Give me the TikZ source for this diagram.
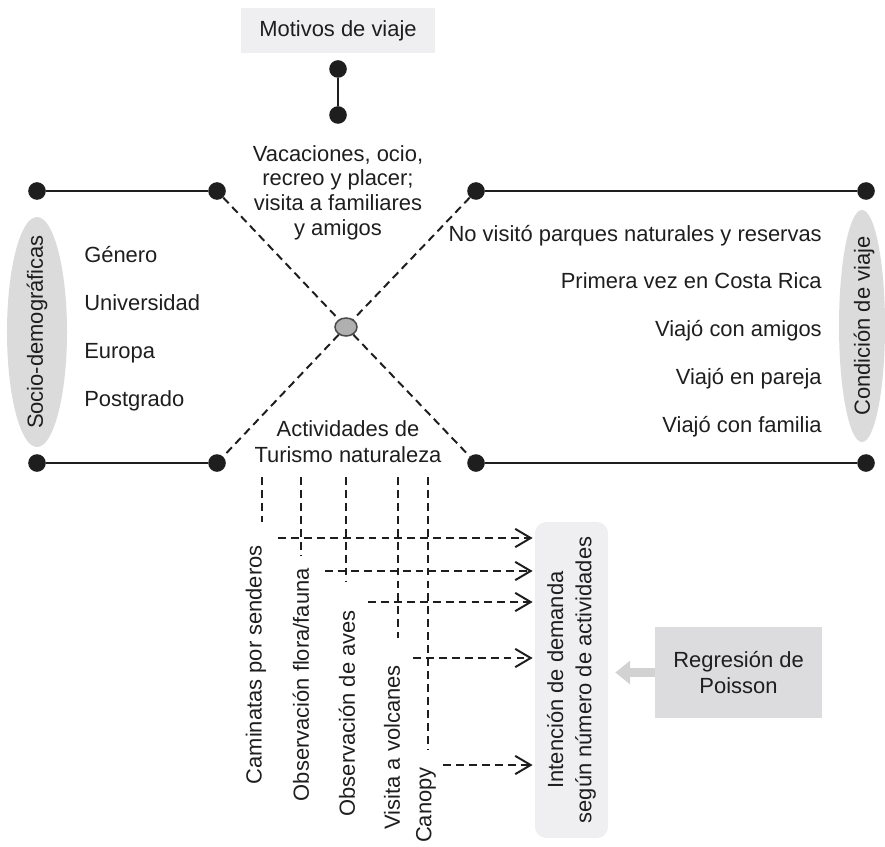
\documentclass[tikz,border=0pt]{standalone}
\usepackage{fontspec}
\setmainfont{Liberation Sans}
\usepackage{tikz}
\usetikzlibrary{arrows.meta}
\usetikzlibrary{shapes.geometric}
\definecolor{ink}{HTML}{1E1E1E}
\definecolor{boxlight}{HTML}{EFEFF1}
\definecolor{boxgray}{HTML}{DCDCDE}
\definecolor{ellgray}{HTML}{DBDBDB}
\definecolor{arrowgray}{HTML}{D2D2D2}
\tikzset{
	txt/.style={font=\fontsize{15.6}{18}\selectfont, text=ink, inner sep=0pt},
	dot/.style={circle, fill=ink, inner sep=0pt, minimum size=0.44cm},
	link/.style={line width=1.6pt, draw=ink},
	dashlink/.style={line width=1.4pt, draw=ink, dash pattern=on 5.6pt off 3.6pt},
	dasharrow/.style={dashlink, -{Straight Barb[length=11pt, width=13pt]}, shorten >=1.5pt},
	ellbox/.style={ellipse, fill=ellgray, inner sep=0pt},
}
\begin{document}
\begin{tikzpicture}[x=0.025cm, y=-0.025cm]
	\useasboundingbox (0,0) rectangle (885,846);
	%top part
	\node[txt, fill=boxlight, minimum width=4.85cm, minimum height=1.125cm] (motivos) at (338,30.5) {Motivos de viaje};
	\node[dot] (md1) at (338,69) {};
	\node[dot] (md2) at (338,115) {};
		\draw[link] (md1) -- (md2);
	\node[txt, align=center, anchor=north, font=\fontsize{15.6}{17.5}\selectfont] (vacaciones) at (338,145) {Vacaciones, ocio,\\recreo y placer;\\visita a familiares\\y amigos};
	
	%side lines
	\node[dot] (dl1) at (37,191) {};
	\node[dot] (dl2) at (217,191) {};
	\node[dot] (dr1) at (476,191) {};
	\node[dot] (dr2) at (866,191) {};
	\node[dot] (dl3) at (37,463) {};
	\node[dot] (dl4) at (217,463) {};
	\node[dot] (dr3) at (476,463) {};
	\node[dot] (dr4) at (866,463) {};
		\draw[link] (dl1) -- (dl2);
		\draw[link] (dr1) -- (dr2);
		\draw[link] (dl3) -- (dl4);
		\draw[link] (dr3) -- (dr4);
	
	%cross
	\node[ellipse, fill=gray!62, draw=ink!80, line width=1.1pt, minimum width=0.55cm, minimum height=0.45cm, inner sep=0pt] (ctr) at (346,327) {};
		\draw[dashlink] (dl2) -- (ctr);
		\draw[dashlink] (ctr) -- (dr3);
		\draw[dashlink] (dr1) -- (ctr);
		\draw[dashlink] (ctr) -- (dl4);
	
	%socio-demographic side
	\node[ellbox, minimum width=1.5cm, minimum height=5.75cm] (socio) at (37,332) {};
	\node[txt, rotate=90] (sociotxt) at (socio) {Socio-demográficas};
	\foreach \t [count=\i] in {Género, Universidad, Europa, Postgrado}
		\node[txt, anchor=base west] (s\i) at (84,{214+48*\i}) {\t};
	
	%travel condition side
	\node[ellbox, minimum width=1.15cm, minimum height=5.8cm] (condicion) at (862,326) {};
	\node[txt, rotate=90] (condiciontxt) at (864,326) {Condición de viaje};
	\foreach \t [count=\i] in {No visitó parques naturales y reservas, Primera vez en Costa Rica, Viajó con amigos, Viajó en pareja, Viajó con familia}
		\node[txt, anchor=base east] (c\i) at (822,{193.25+47.75*\i}) {\t};
	
	%activities
	\node[txt, align=center, anchor=north, font=\fontsize{15.6}{18.4}\selectfont] (actividades) at (348,420) {Actividades de\\Turismo naturaleza};
	\node[txt, rotate=90, anchor=east] (a1) at (256,545) {Caminatas por senderos};
	\node[txt, rotate=90, anchor=east] (a2) at (301,568) {Observación flora/fauna};
	\node[txt, rotate=90, anchor=east] (a3) at (347,610) {Observación de aves};
	\node[txt, rotate=90, anchor=east] (a4) at (392,665) {Visita a volcanes};
	\node[txt, rotate=90, anchor=east] (a5) at (426,767) {Canopy};
	
	%demand box
	\node[fill=boxlight, rounded corners=8pt, minimum width=1.825cm, minimum height=7.9cm] (dem) at (571.5,680) {};
	\node[txt, rotate=90, align=center, font=\fontsize{15.6}{20}\selectfont] (demtxt) at (dem) {Intención de demanda\\según número de actividades};
	
	%dashed guides
	\foreach \i/\x/\y in {1/262/522, 2/301/555, 3/346/582, 4/398/638, 5/428/750}
	{
		\coordinate (vt\i) at (\x,477);
		\coordinate (vb\i) at (\x,\y);
		\draw[dashlink] (vt\i) -- (vb\i);
	}
	\foreach \i/\x/\y in {1/278/538, 2/325/571, 3/368/602, 4/413/658, 5/443/765}
	{
		\coordinate (as\i) at (\x,\y);
		\draw[dasharrow] (as\i) -- (as\i -| dem.west);
	}
	
	%poisson
	\node[txt, align=center, fill=boxgray, minimum width=4.175cm, minimum height=2.275cm, font=\fontsize{15.6}{18.4}\selectfont] (poisson) at (738.5,672.5) {Regresión de\\Poisson};
		\draw[line width=7pt, draw=arrowgray, -{Triangle[length=10.6pt, width=16.3pt]}, shorten >=5pt] (poisson.west) -- (poisson.west -| dem.east);
\end{tikzpicture}
\end{document}
